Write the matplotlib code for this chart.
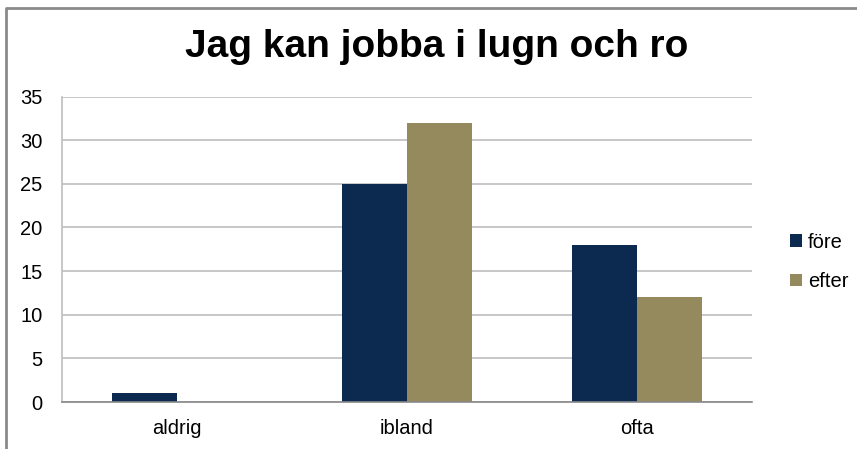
import matplotlib
matplotlib.use("Agg")
import matplotlib.pyplot as plt
from matplotlib.lines import Line2D
import numpy as np

categories = ["aldrig", "ibland", "ofta"]
fore = [1, 25, 18]
efter = [0, 32, 12]
series_names = ["före", "efter"]
yticks = [0, 5, 10, 15, 20, 25, 30, 35]

plt.rcParams['font.family'] = ['Liberation Sans', 'DejaVu Sans']

W, H = 857, 449
fig = plt.figure(figsize=(W / 100, H / 100), dpi=100)
ax = fig.add_axes([62 / W, 1 - 402 / H, (752 - 62) / W, (402 - 96.5) / H])

x = np.arange(len(categories))
bw = 0.283
c1, c2 = "#0C2950", "#958A5E"
ax.bar(x - bw / 2, fore, bw, color=c1, label=series_names[0], zorder=3)
ax.bar(x + bw / 2, efter, bw, color=c2, label=series_names[1], zorder=3)

ax.set_xlim(-0.5, 2.5)
ax.set_ylim(0, 35)
ax.set_yticks(yticks)
ax.set_xticks(x)
ax.set_xticklabels(categories)
ax.tick_params(axis='both', length=0, labelsize=14.5, colors='black')
ax.tick_params(axis='y', pad=14)
ax.tick_params(axis='x', pad=12)
ax.yaxis.grid(True, color="#BEBEBE", linewidth=1.2, zorder=0)
for s in ["top", "right"]:
    ax.spines[s].set_visible(False)
ax.spines["left"].set_color("#BEBEBE")
ax.spines["left"].set_linewidth(1.2)
ax.spines["bottom"].set_color("#888888")
ax.spines["bottom"].set_linewidth(1.2)
ax.spines["bottom"].set_zorder(4)

fig.text(437 / W, 1 - 47 / H, "Jag kan jobba i lugn och ro", ha="center", va="center",
         fontsize=28, fontweight="bold")

leg = ax.legend(loc="center left", bbox_to_anchor=(772 / W, 1 - 262 / H),
                bbox_transform=fig.transFigure, frameon=False, fontsize=14.5,
                handlelength=0.6, handleheight=0.6, handletextpad=0.3, labelspacing=1.0)

fig.add_artist(Line2D([6 / W, 6 / W, 1], [0, 1 - 7.5 / H, 1 - 7.5 / H],
                      transform=fig.transFigure, color="#8A8A8A", linewidth=2))

fig.savefig("out.png", dpi=100)
